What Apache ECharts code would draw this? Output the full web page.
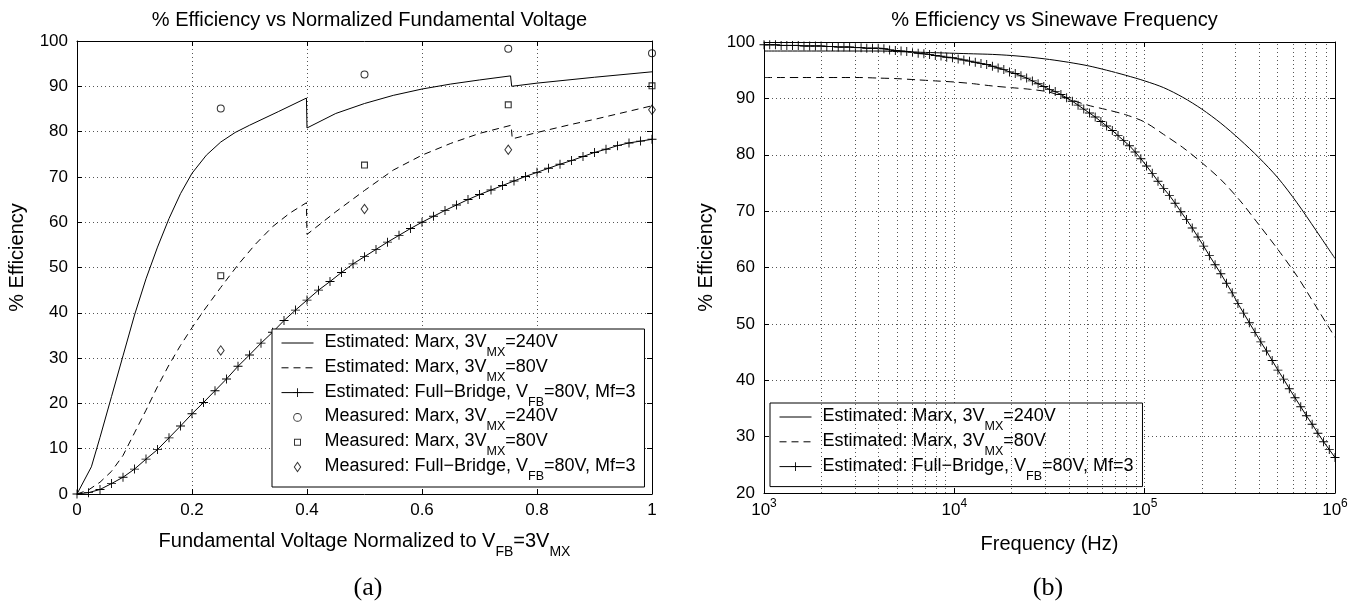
<!DOCTYPE html>
<html>
<head>
<meta charset="utf-8">
<title>Efficiency</title>
<script src="https://cdn.jsdelivr.net/npm/echarts@6/dist/echarts.min.js"></script>
<style>
  html, body { margin: 0; padding: 0; background: #fff; }
  #chart { width: 1369px; height: 608px; }
</style>
</head>
<body>
<div id="chart"></div>
<script>
// ---- (a) % efficiency vs normalized fundamental voltage ----
var marx240Volt = [0, 0.025, 0.04, 0.06, 0.08, 0.1, 0.12, 0.14, 0.16, 0.18, 0.2, 0.225, 0.25, 0.275, 0.3, 0.35, 0.399,
  0.4, 0.45, 0.5, 0.55, 0.6, 0.65, 0.7, 0.754, 0.756, 0.8, 0.9, 1.0]
var marx240Eff = [0, 6, 12.5, 21.5, 30.5, 39.5, 47.5, 54.5, 60.8, 66.3, 70.8, 74.8, 77.7, 79.8, 81.4, 84.4, 87.4,
  80.8, 84.0, 86.2, 88.0, 89.4, 90.5, 91.4, 92.3, 90.0, 90.7, 92.0, 93.2]

var marx80Volt = [0, 0.02, 0.04, 0.06, 0.08, 0.1, 0.12, 0.14, 0.16, 0.18, 0.2, 0.22, 0.25, 0.28, 0.31, 0.34, 0.37, 0.399,
  0.4, 0.45, 0.5, 0.55, 0.6, 0.65, 0.7, 0.755, 0.757, 0.8, 0.86, 0.9, 1.0]
var marx80Eff = [0, 0.9, 2.6, 5.0, 8.5, 13.5, 18.5, 23.7, 28.5, 32.8, 36.7, 40.4, 45.6, 50.6, 55.1, 59.0, 62.0, 64.3,
  57.3, 62.3, 67, 71.5, 74.8, 77.4, 79.6, 81.4, 78.4, 79.8, 81.6, 82.7, 85.7]

var fbVolt = [0, 0.02, 0.04, 0.06, 0.08, 0.1, 0.12, 0.14, 0.16, 0.18, 0.2, 0.22, 0.24, 0.26, 0.28, 0.3, 0.32, 0.34,
  0.36, 0.38, 0.4, 0.42, 0.44, 0.46, 0.48, 0.5, 0.52, 0.54, 0.56, 0.58, 0.6, 0.62, 0.64, 0.66, 0.68, 0.7, 0.72,
  0.74, 0.76, 0.78, 0.8, 0.82, 0.84, 0.86, 0.88, 0.9, 0.92, 0.94, 0.96, 0.98, 1.0]
var fbEff = [0, 0.3, 1.0, 2.3, 3.7, 5.5, 7.7, 9.8, 12.4, 15.0, 17.7, 20.2, 22.8, 25.4, 28.2, 30.7, 33.3, 35.7,
  38.3, 40.6, 42.8, 45.0, 46.9, 48.9, 50.8, 52.4, 54.0, 55.6, 57.1, 58.6, 60.0, 61.3, 62.6, 63.8, 65.0, 66.1, 67.1,
  68.1, 69.1, 70.1, 71.0, 71.9, 72.8, 73.6, 74.5, 75.4, 76.1, 76.9, 77.5, 77.9, 78.3]

var measVolt = [0.25, 0.5, 0.75, 1.0]
var measMarx240 = [85.1, 92.6, 98.3, 97.3]
var measMarx80 = [48.2, 72.6, 85.9, 90.1]
var measFB = [31.7, 62.9, 76.0, 84.8]

// ---- (b) % efficiency vs sinewave frequency (frequency as log10 Hz) ----
var marxFreqExp = [3.0, 3.1, 3.2, 3.3, 3.4, 3.5, 3.6, 3.7, 3.8, 3.9, 4.0, 4.1, 4.2, 4.3, 4.4, 4.5, 4.6, 4.7, 4.8, 4.9,
  5.0, 5.1, 5.2, 5.3, 5.4, 5.5, 5.6, 5.7, 5.8, 5.9, 6.0]
var marx240EffF = [98.4, 98.4, 98.4, 98.4, 98.4, 98.4, 98.4, 98.3, 98.2, 98.1, 98.0, 97.9, 97.8, 97.6, 97.3, 96.9, 96.4,
  95.8, 95.0, 94.1, 93.1, 91.9, 90.2, 88.1, 85.6, 82.7, 79.5, 75.9, 71.5, 66.6, 61.6]
var marx80EffF = [93.7, 93.7, 93.7, 93.7, 93.7, 93.7, 93.6, 93.5, 93.3, 93.1, 92.9, 92.6, 92.2, 91.9, 91.6, 91.1, 89.9,
  88.8, 88.0, 87.1, 85.8, 83.6, 81.3, 78.6, 75.6, 71.9, 67.6, 63.2, 58.5, 53.1, 47.6]

var fbFreqExp = [3.00, 3.03, 3.06, 3.09, 3.12, 3.15, 3.18, 3.21, 3.24, 3.27, 3.30, 3.33, 3.36, 3.39, 3.42, 3.45, 3.48,
  3.51, 3.54, 3.57, 3.60, 3.63, 3.66, 3.69, 3.72, 3.75, 3.78, 3.81, 3.84, 3.87, 3.90, 3.93, 3.96, 3.99, 4.02, 4.05,
  4.08, 4.11, 4.14, 4.17, 4.20, 4.23, 4.26, 4.29, 4.32, 4.35, 4.38, 4.41, 4.44, 4.47, 4.50, 4.53, 4.56, 4.59, 4.62,
  4.65, 4.68, 4.71, 4.74, 4.77, 4.80, 4.83, 4.86, 4.89, 4.92, 4.95, 4.98, 5.01, 5.04, 5.07, 5.10, 5.13, 5.16, 5.19,
  5.22, 5.25, 5.28, 5.31, 5.34, 5.37, 5.40, 5.43, 5.46, 5.49, 5.52, 5.55, 5.58, 5.61, 5.64, 5.67, 5.70, 5.73, 5.76,
  5.79, 5.82, 5.85, 5.88, 5.91, 5.94, 5.97, 6.00]
var fbEffF = [99.5, 99.5, 99.5, 99.4, 99.4, 99.4, 99.4, 99.3, 99.3, 99.3, 99.3, 99.2, 99.2, 99.1, 99.1, 99.1, 99.0,
  99.0, 98.9, 98.9, 98.9, 98.8, 98.6, 98.5, 98.4, 98.3, 98.2, 98.0, 97.9, 97.8, 97.6, 97.5, 97.3, 97.2, 97.0, 96.8,
  96.6, 96.4, 96.2, 96.0, 95.7, 95.4, 95.1, 94.7, 94.4, 94.0, 93.6, 93.1, 92.6, 92.1, 91.6, 91.2, 90.7, 90.1, 89.5,
  88.8, 88.1, 87.4, 86.7, 85.9, 85.1, 84.3, 83.4, 82.5, 81.6, 80.5, 79.3, 78.0, 76.7, 75.3, 74.0, 72.8, 71.4, 69.9,
  68.5, 67.0, 65.4, 63.8, 62.1, 60.5, 58.9, 57.2, 55.5, 53.6, 51.9, 50.2, 48.5, 46.8, 45.2, 43.5, 41.8, 40.2, 38.5,
  36.9, 35.3, 33.7, 32.2, 30.6, 29.1, 27.7, 26.3]

// minor log grid lines (Hz)
var minorFreqs = [2000, 3000, 4000, 5000, 6000, 7000, 8000, 9000,
  20000, 30000, 40000, 50000, 60000, 70000, 80000, 90000,
  200000, 300000, 400000, 500000, 600000, 700000, 800000, 900000]

var N_M240 = "Estimated: Marx, 3V_MX=240V"
var N_M80 = "Estimated: Marx, 3V_MX=80V"
var N_FB = "Estimated: Full-Bridge, V_FB=80V, Mf=3"
var N_MEAS240 = "Measured: Marx, 3V_MX=240V"
var N_MEAS80 = "Measured: Marx, 3V_MX=80V"
var N_MEASFB = "Measured: Full-Bridge, V_FB=80V, Mf=3"

var legendText = {}
legendText[N_M240] = "{m|Estimated: Marx, 3V}{s|MX}{m|=240V}"
legendText[N_M80] = "{m|Estimated: Marx, 3V}{s|MX}{m|=80V}"
legendText[N_FB] = "{m|Estimated: Full\u2212Bridge, V}{s|FB}{m|=80V, Mf=3}"
legendText[N_MEAS240] = "{m|Measured: Marx, 3V}{s|MX}{m|=240V}"
legendText[N_MEAS80] = "{m|Measured: Marx, 3V}{s|MX}{m|=80V}"
legendText[N_MEASFB] = "{m|Measured: Full\u2212Bridge, V}{s|FB}{m|=80V, Mf=3}"

var FONT = "'Liberation Sans', Arial, Helvetica, sans-serif"
var PLUS = "path://M4.5,0H5.5V4.5H10V5.5H5.5V10H4.5V5.5H0V4.5H4.5Z"
// hollow markers drawn as filled outlines with a hole
var RING = "path://M10,5A5,5,0,1,1,0,5A5,5,0,1,1,10,5Z M8.7,5A3.7,3.7,0,1,0,1.3,5A3.7,3.7,0,1,0,8.7,5Z"
var SQUARE = "path://M0,0H10V10H0Z M1.6,1.6V8.4H8.4V1.6Z"
var DIAMOND = "path://M4,0L8,5.5L4,11L0,5.5Z M4,1.7L1.2,5.5L4,9.3L6.8,5.5Z"
// legend marker icons (padded to an 11x11 box)
var ICON_CIRCLE = "path://M9.8,5.5A4.3,4.3,0,1,1,1.2,5.5A4.3,4.3,0,1,1,9.8,5.5Z" +
  "M8.9,5.5A3.4,3.4,0,1,0,2.1,5.5A3.4,3.4,0,1,0,8.9,5.5Z M0,0L0,0Z M11,11L11,11Z"
var ICON_SQUARE = "path://M2,2H9V9H2Z M3,3V8H8V3Z M0,0L0,0Z M11,11L11,11Z"
var ICON_DIAMOND = "path://M5.5,0L9.3,5.5L5.5,11L1.7,5.5Z M5.5,1.8L2.9,5.5L5.5,9.2L8.1,5.5Z M0,0L0,0Z M11,11L11,11Z"
var dotted = { type: [1, 3], color: "#555", width: 1 }

function zip(xs, ys) {
  return xs.map(function (x, i) { return [x, ys[i]] })
}
function zipExp(es, ys) {
  return es.map(function (e, i) { return [Math.pow(10, e), ys[i]] })
}

var noSym = { opacity: 0 }
var legendCommon = {
  orient: "vertical",
  itemWidth: 32,
  itemHeight: 11,
  itemGap: -1.2,
  padding: [4, 9, 4, 9],
  backgroundColor: "#fff",
  borderColor: "#000",
  borderWidth: 1,
  borderRadius: 0,
  selectedMode: false,
  lineStyle: { width: 1 },
  formatter: function (n) { return legendText[n] },
  textStyle: {
    color: "#000",
    fontFamily: FONT,
    padding: [0, 0, 0, 6],
    rich: {
      m: { fontSize: 18, lineHeight: 20, verticalAlign: "top", fontFamily: FONT, color: "#000" },
      s: { fontSize: 12.5, lineHeight: 8, padding: [13, 0, 0, 0], verticalAlign: "top", fontFamily: FONT, color: "#000" },
    },
  },
}

function valueAxis(grid, pos, min, max, interval, extra) {
  var a = {
    type: "value",
    gridIndex: grid,
    position: pos,
    min: min,
    max: max,
    interval: interval,
    axisLine: { show: true, onZero: false, lineStyle: { color: "#000", width: 1 } },
    axisTick: { show: true, inside: true, length: 5, lineStyle: { color: "#000" } },
    axisLabel: { show: false },
    splitLine: { show: false },
  }
  return Object.assign(a, extra || {})
}

var tickLabel = { show: true, color: "#000", fontSize: 17, fontFamily: FONT }

var chart = echarts.init(document.getElementById("chart"))
chart.setOption({
  animation: false,
  backgroundColor: "#fff",
  title: [
    {
      text: "% Efficiency vs Normalized Fundamental Voltage",
      left: 364.5, top: 5, textAlign: "center",
      textStyle: { fontSize: 20, fontWeight: "normal", fontFamily: FONT, color: "#000" },
    },
    {
      text: "% Efficiency vs Sinewave Frequency",
      left: 1049.5, top: 5, textAlign: "center",
      textStyle: { fontSize: 20, fontWeight: "normal", fontFamily: FONT, color: "#000" },
    },
  ],
  grid: [
    { left: 77, top: 41, width: 575, height: 453 },
    { left: 764, top: 42, width: 571, height: 451 },
  ],
  xAxis: [
    valueAxis(0, "bottom", 0, 1, 0.2, {
      axisLabel: Object.assign({ margin: 8 }, tickLabel),
      splitLine: { show: true, lineStyle: dotted },
      name: "{m|Fundamental Voltage Normalized to V}{s|FB}{m|=3V}{s|MX}",
      nameLocation: "middle",
      nameGap: 37,
      nameTextStyle: {
        rich: {
          m: { fontSize: 20, lineHeight: 22, verticalAlign: "top", fontFamily: FONT, color: "#000" },
          s: { fontSize: 14, lineHeight: 8, padding: [14, 0, 0, 0], verticalAlign: "top", fontFamily: FONT, color: "#000" },
        },
      },
    }),
    valueAxis(0, "top", 0, 1, 0.2),
    {
      type: "log",
      logBase: 10,
      gridIndex: 1,
      position: "bottom",
      min: 1000,
      max: 1000000,
      axisLine: { show: true, onZero: false, lineStyle: { color: "#000", width: 1 } },
      axisTick: { show: true, inside: true, length: 5, lineStyle: { color: "#000" } },
      axisLabel: {
        show: true,
        margin: 3,
        formatter: function (v) { return "{b|10}{p|" + Math.round(Math.log10(v)) + "}" },
        rich: {
          b: { fontSize: 17, lineHeight: 20, padding: [6, 0, 0, 0], verticalAlign: "top", fontFamily: FONT, color: "#000" },
          p: { fontSize: 12, lineHeight: 12, padding: [2, 0, 0, 0], verticalAlign: "top", fontFamily: FONT, color: "#000" },
        },
      },
      splitLine: { show: true, lineStyle: dotted },
      name: "{m|Frequency (Hz)}",
      nameLocation: "middle",
      nameGap: 41,
      nameTextStyle: {
        rich: { m: { fontSize: 20, lineHeight: 22, verticalAlign: "top", fontFamily: FONT, color: "#000" } },
      },
    },
    {
      type: "log",
      logBase: 10,
      gridIndex: 1,
      position: "top",
      min: 1000,
      max: 1000000,
      axisLine: { show: true, onZero: false, lineStyle: { color: "#000", width: 1 } },
      axisTick: { show: true, inside: true, length: 5, lineStyle: { color: "#000" } },
      axisLabel: { show: false },
      splitLine: { show: false },
    },
  ],
  yAxis: [
    valueAxis(0, "left", 0, 100, 10, {
      axisLabel: Object.assign({ margin: 9 }, tickLabel),
      splitLine: { show: true, lineStyle: dotted },
      name: "% Efficiency",
      nameLocation: "middle",
      nameGap: 50,
      nameTextStyle: { fontSize: 20, fontFamily: FONT, color: "#000", padding: [0, 0, 0, 20] },
    }),
    valueAxis(0, "right", 0, 100, 10),
    valueAxis(1, "left", 20, 100, 10, {
      axisLabel: Object.assign({ margin: 9 }, tickLabel),
      splitLine: { show: true, lineStyle: dotted },
      name: "% Efficiency",
      nameLocation: "middle",
      nameGap: 48,
      nameTextStyle: { fontSize: 20, fontFamily: FONT, color: "#000", padding: [0, 0, 0, 20] },
    }),
    valueAxis(1, "right", 20, 100, 10),
  ],
  legend: [
    Object.assign({}, legendCommon, {
      left: 272, top: 329,
      data: [
        { name: N_M240, itemStyle: noSym },
        { name: N_M80, itemStyle: noSym },
        { name: N_FB },
        { name: N_MEAS240, icon: ICON_CIRCLE, itemStyle: { borderWidth: 0 } },
        { name: N_MEAS80, icon: ICON_SQUARE, itemStyle: { borderWidth: 0 } },
        { name: N_MEASFB, icon: ICON_DIAMOND, itemStyle: { borderWidth: 0 } },
      ],
    }),
    Object.assign({}, legendCommon, {
      left: 770, top: 403,
      data: [
        { name: N_M240, itemStyle: noSym },
        { name: N_M80, itemStyle: noSym },
        { name: N_FB },
      ],
    }),
  ],
  graphic: [
    { type: "text", x: 368, y: 588, style: { text: "(a)", font: "26px 'Liberation Serif', serif", fill: "#000", textAlign: "center", textVerticalAlign: "middle", align: "center", verticalAlign: "middle" } },
    { type: "text", x: 1048, y: 588, style: { text: "(b)", font: "26px 'Liberation Serif', serif", fill: "#000", textAlign: "center", textVerticalAlign: "middle", align: "center", verticalAlign: "middle" } },
  ],
  series: [
    // (a)
    {
      name: N_M240, type: "line", xAxisIndex: 0, yAxisIndex: 0,
      data: zip(marx240Volt, marx240Eff), symbol: "none",
      lineStyle: { color: "#000", width: 1 }, itemStyle: { color: "#000" },
    },
    {
      name: N_M80, type: "line", xAxisIndex: 0, yAxisIndex: 0,
      data: zip(marx80Volt, marx80Eff), symbol: "none",
      lineStyle: { color: "#000", width: 1, type: [7, 5] }, itemStyle: { color: "#000" },
    },
    {
      name: N_FB, type: "line", xAxisIndex: 0, yAxisIndex: 0,
      data: zip(fbVolt, fbEff), symbol: PLUS, symbolSize: 9, showAllSymbol: true,
      lineStyle: { color: "#000", width: 1 }, itemStyle: { color: "#000" },
    },
    {
      name: N_MEAS240, type: "scatter", xAxisIndex: 0, yAxisIndex: 0,
      data: zip(measVolt, measMarx240), symbol: RING, symbolSize: 8,
      itemStyle: { color: "#000" },
    },
    {
      name: N_MEAS80, type: "scatter", xAxisIndex: 0, yAxisIndex: 0,
      data: zip(measVolt, measMarx80), symbol: SQUARE, symbolSize: 7,
      itemStyle: { color: "#000" },
    },
    {
      name: N_MEASFB, type: "scatter", xAxisIndex: 0, yAxisIndex: 0,
      data: zip(measVolt, measFB), symbol: DIAMOND, symbolSize: [8, 11],
      itemStyle: { color: "#000" },
    },
    // (b)
    {
      name: N_M240, type: "line", xAxisIndex: 2, yAxisIndex: 2,
      data: zipExp(marxFreqExp, marx240EffF), symbol: "none", smooth: 0.3,
      lineStyle: { color: "#000", width: 1 }, itemStyle: { color: "#000" },
      markLine: {
        silent: true, animation: false, symbol: ["none", "none"],
        label: { show: false }, lineStyle: dotted, emphasis: { disabled: true },
        data: minorFreqs.map(function (f) { return { xAxis: f } }),
      },
    },
    {
      name: N_M80, type: "line", xAxisIndex: 2, yAxisIndex: 2,
      data: zipExp(marxFreqExp, marx80EffF), symbol: "none", smooth: 0.3,
      lineStyle: { color: "#000", width: 1, type: [8, 5] }, itemStyle: { color: "#000" },
    },
    {
      name: N_FB, type: "line", xAxisIndex: 2, yAxisIndex: 2,
      data: zipExp(fbFreqExp, fbEffF), symbol: PLUS, symbolSize: 9, showAllSymbol: true,
      lineStyle: { color: "#000", width: 1 }, itemStyle: { color: "#000" },
    },
  ],
})

window.addEventListener("resize", function () {
  chart.resize()
})
</script>
</body>
</html>
